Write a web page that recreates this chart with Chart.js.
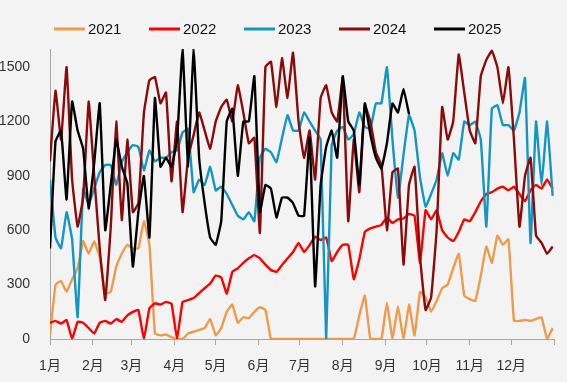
<!DOCTYPE html>
<html><head><meta charset="utf-8">
<script src="https://cdn.jsdelivr.net/npm/chart.js@4.4.1/dist/chart.umd.min.js"></script>
<style>html,body{margin:0;padding:0;background:#F3F3F3;} canvas{display:block;}</style>
</head><body>
<canvas id="c" width="567" height="382"></canvas>
<script>
// day-of-year sample positions
const days = [
0,4,8,12,16,20,24,28,32,36,
40,44,48,52,56,60,64,68,72,76,
80,84,88,92,96,100,104,108,112,116,
120,124,128,132,136,140,144,148,152,156,
160,164,168,172,176,180,184,188,192,196,
200,204,208,212,216,220,224,228,232,236,
240,244,248,252,256,260,264,268,272,276,
280,284,288,292,296,300,304,308,312,316,
320,324,328,332,336,340,344,348,352,356,
360,364];

const seriesNames = ['2021','2022','2023','2024','2025'];

const v2021 = [
20,300,320,260,330,390,540,470,540,450,
250,260,400,470,520,500,500,650,520,30,
20,25,10,0,0,30,40,50,60,110,
20,60,150,190,90,120,115,150,175,160,
0,0,0,0,0,0,0,0,0,0,
0,0,0,0,0,0,130,240,0,0,
0,200,0,180,0,190,20,260,230,150,
210,280,300,390,470,240,220,210,350,510,
420,570,520,550,100,100,105,100,110,120,
0,60];

const v2022 = [
90,100,85,105,0,95,90,60,30,90,
100,85,110,95,130,150,160,0,170,197,
190,205,195,0,205,215,226,253,280,306,
350,340,250,370,390,420,445,463,445,410,
380,370,408,445,480,530,480,518,565,546,
560,430,480,520,520,330,440,590,610,620,
630,670,640,660,665,690,680,420,710,660,
710,600,560,540,590,660,650,700,760,800,
810,830,840,820,840,800,760,820,850,830,
880,830];

const v2023 = [
880,560,500,700,550,120,830,740,830,920,
960,960,850,976,1030,1070,1060,930,1040,980,
1000,1000,1030,1040,1140,1160,810,880,850,950,
820,840,800,740,680,660,700,650,1000,1050,
1030,976,1108,1235,1150,1150,1250,1200,1150,1100,
0,1070,1150,1170,1100,1130,1250,1170,1160,1300,
1300,1500,1100,780,1015,1235,1150,890,730,800,
880,1025,900,1025,990,1200,1180,1200,1100,620,
1270,1290,1180,1180,1150,1250,1440,530,1200,850,
1200,790];

const v2024 = [
980,1370,1100,1500,880,620,780,1310,900,500,
215,618,1200,656,1100,700,750,1246,1428,1445,
1300,1360,870,1200,700,1000,1125,1250,1150,1050,
1200,1280,1320,1200,1400,1250,1080,1110,585,1500,
1530,1280,1550,1330,1580,1200,1000,1150,880,1330,
1400,1250,1200,1440,650,1100,810,1290,1200,1030,
960,600,920,940,410,850,950,450,160,230,
600,1280,1100,1200,1570,1360,1150,1080,1450,1540,
1590,1500,1300,1500,1100,620,900,1000,570,530,
470,510];

const v2025 = [
500,1090,1150,770,1310,1150,1050,720,970,1300,
600,850,1100,950,860,400,700,900,560,1330,
950,1000,950,1100,1600,950,1600,1000,750,560,
520,650,1200,1270,900,1200,1200,1450,700,850,
830,670,780,780,750,680,680,1110,290,850,
1060,1150,1000,1450,1200,1150,850,1300,1130,1000,
940,1080,1300,1250,1380,1240,null,null,null,null,
null,null,null,null,null,null,null,null,null,null,
null,null,null,null,null,null,null,null,null,null,
null,null];

const seriesValues = [v2021, v2022, v2023, v2024, v2025];
const seriesColors = ['#EE9B4C','#FF0000','#1397C2','#8B0A0A','#000000'];

const monthTicks = [0,31,59,90,120,151,181,212,243,273,304,334,365];
const monthLabels = ['1月','2月','3月','4月','5月','6月','7月','8月','9月','10月','11月','12月',''];
const yTicks = [0,300,600,900,1200,1500];

const baseFam = '"Liberation Sans", "Noto Sans CJK SC", sans-serif';
const tickSize = 13;
const legendSize = 15;

const datasets = seriesNames.map((name, k) => ({
  label: name,
  data: days.map((d, i) => ({x: d, y: seriesValues[k][i]})),
  borderColor: seriesColors[k],
  backgroundColor: seriesColors[k],
  borderWidth: 2.4,
  pointRadius: 0,
  tension: 0.1,
  order: 5 - k,
  spanGaps: false
}));

const legendPlugin = {
  id: 'customLegend',
  afterDraw(chart){
    const ctx = chart.ctx;
    ctx.save();
    chart.data.datasets.forEach((ds, i) => {
      const x0 = 54 + i * 95;
      ctx.strokeStyle = ds.borderColor;
      ctx.lineWidth = 3;
      ctx.beginPath(); ctx.moveTo(x0, 29); ctx.lineTo(x0 + 31, 29); ctx.stroke();
      ctx.fillStyle = '#111';
      ctx.font = legendSize + 'px ' + baseFam;
      ctx.textBaseline = 'middle';
      ctx.textAlign = 'left';
      ctx.fillText(ds.label, x0 + 34, 29.5);
    });
    ctx.restore();
  }
};

new Chart(document.getElementById('c'), {
  type: 'line',
  data: { datasets },
  options: {
    responsive: false,
    animation: false,
    devicePixelRatio: 1,
    layout: { padding: { top: 49, right: 5, left: 0, bottom: 0 } },
    plugins: { legend: { display: false }, tooltip: { enabled: false } },
    scales: {
      x: {
        type: 'linear', min: 0, max: 365,
        afterBuildTicks: s => { s.ticks = monthTicks.map(v => ({value: v})); },
        afterFit: s => { s.height = 43; },
        ticks: {
          autoSkip: false, maxRotation: 0, minRotation: 0, padding: 13,
          color: '#333', font: { size: 14, family: baseFam },
          callback: (v, i) => monthLabels[i]
        },
        grid: { display: true, drawOnChartArea: false, drawTicks: true, tickLength: 6, color: '#A6A6A6' },
        border: { display: true, color: '#A6A6A6', width: 1 }
      },
      y: {
        type: 'linear', min: 0, max: 1600,
        afterBuildTicks: s => { s.ticks = yTicks.map(v => ({value: v})); },
        afterFit: s => { s.width = 50; },
        ticks: { padding: 20, color: '#333', font: { size: 14, family: baseFam },
                 callback: v => String(v) },
        grid: { display: false, drawTicks: false },
        border: { display: true, color: '#A6A6A6', width: 1 }
      }
    }
  },
  plugins: [legendPlugin]
});
</script>
</body></html>
